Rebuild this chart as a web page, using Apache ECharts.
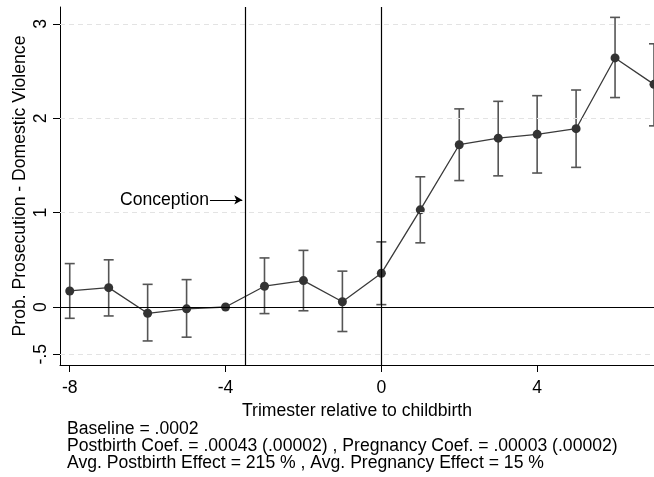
<!DOCTYPE html>
<html>
<head>
<meta charset="utf-8">
<script src="https://cdn.jsdelivr.net/npm/echarts@6/dist/echarts.min.js"></script>
<style>
html, body { margin: 0; padding: 0; background: #fff; }
#chart { width: 654px; height: 477px; }
</style>
</head>
<body>
<div id="chart"></div>
<script>
// 数据
var trimesters = [-8, -7, -6, -5, -4, -3, -2, -1, 0, 1, 2, 3, 4, 5, 6, 7];
var coef = [0.17, 0.205, -0.067, -0.02, 0, 0.22, 0.28, 0.056, 0.357, 1.03, 1.72, 1.79, 1.83, 1.89, 2.64, 2.36];
var ciLow = [-0.12, -0.095, -0.36, -0.32, 0, -0.07, -0.04, -0.26, 0.025, 0.68, 1.34, 1.39, 1.42, 1.48, 2.22, 1.92];
var ciHigh = [0.46, 0.50, 0.24, 0.29, 0, 0.52, 0.60, 0.38, 0.69, 1.38, 2.10, 2.18, 2.24, 2.30, 3.07, 2.79];
var xTicks = [-8, -4, 0, 4];
var yTicks = [-0.5, 0, 1, 2, 3];
var yGrid = [-0.5, 1, 2, 3];
var conceptionX = -3.5;
var arrowFrom = [-4.4, 1.135];
var arrowTo = [-3.57, 1.135];
var yTitle = 'Prob. Prosecution - Domestic Violence';
var notes = [
    'Baseline = .0002',
    'Postbirth Coef. = .00043 (.00002) , Pregnancy Coef. = .00003 (.00002)',
    'Avg. Postbirth Effect = 215 % , Avg. Pregnancy Effect = 15 %'
];

var font = 'Liberation Sans, Arial, sans-serif';
var fs = 17.6;

var pointData = trimesters.map(function (t, i) { return [t, coef[i]]; });
var barData = trimesters.map(function (t, i) { return [t, ciLow[i], ciHigh[i]]; });

var box = echarts.init(document.getElementById('chart'));
var option = {
    animation: false,
    textStyle: { fontFamily: font },
    title: {
        text: notes.join('\n'),
        left: 67,
        top: 421,
        padding: 0,
        textStyle: { fontSize: fs, fontWeight: 'normal', color: '#000', lineHeight: 16.7, fontFamily: font }
    },
    // y 轴标题
    graphic: [{
        type: 'text',
        x: 20,
        y: 186,
        rotation: Math.PI / 2,
        style: {
            text: yTitle, fontSize: fs, fill: '#000', fontFamily: font,
            textAlign: 'center', textVerticalAlign: 'middle'
        }
    }],
    grid: { left: 60, right: 0, top: 7, bottom: 112, containLabel: false, outerBoundsMode: 'none' },
    xAxis: {
        type: 'value',
        min: -8.25,
        max: 7,
        name: 'Trimester relative to childbirth',
        nameLocation: 'middle',
        nameGap: 30,
        nameTextStyle: { fontSize: fs, color: '#000', fontFamily: font },
        axisLine: { show: true, onZero: false, lineStyle: { color: '#000', width: 1 } },
        axisTick: { show: true, length: 7, customValues: xTicks, lineStyle: { color: '#000' } },
        axisLabel: {
            customValues: xTicks, fontSize: fs, color: '#000', margin: 14,
            formatter: function (v) { return String(v); }
        },
        splitLine: { show: false }
    },
    yAxis: {
        type: 'value',
        min: -0.615,
        max: 3.18,
        axisLine: { show: true, onZero: false, lineStyle: { color: '#000', width: 1 } },
        axisTick: { show: true, length: 7, customValues: yTicks, lineStyle: { color: '#000' } },
        axisLabel: {
            customValues: yTicks, fontSize: fs, color: '#000', rotate: 90, margin: 10,
            formatter: function (v) { return v === -0.5 ? '-.5' : String(v); }
        },
        splitLine: { show: false }
    },
    series: [
        {
            // 网格线和参考线
            type: 'line',
            data: [],
            silent: true,
            markLine: {
                silent: true,
                symbol: 'none',
                label: { show: false },
                data: yGrid.map(function (v) {
                    return { yAxis: v, lineStyle: { color: '#e3e3e3', type: [5, 4], width: 1 } };
                }).concat([
                    { yAxis: 0, lineStyle: { color: '#000', type: 'solid', width: 1.2 } },
                    { xAxis: 0, lineStyle: { color: '#000', type: 'solid', width: 1.2 } },
                    { xAxis: conceptionX, lineStyle: { color: '#000', type: 'solid', width: 1.2 } }
                ])
            }
        },
        {
            type: 'custom',
            data: barData,
            z: 3,
            renderItem: function (params, api) {
                var lo = api.value(1), hi = api.value(2);
                if (lo === hi) return;
                var p1 = api.coord([api.value(0), lo]);
                var p2 = api.coord([api.value(0), hi]);
                var w = 5;
                var style = { stroke: '#555', lineWidth: 1.6 };
                return {
                    type: 'group',
                    children: [
                        { type: 'line', shape: { x1: p1[0], y1: p1[1], x2: p2[0], y2: p2[1] }, style: style },
                        { type: 'line', shape: { x1: p1[0] - w, y1: p1[1], x2: p1[0] + w, y2: p1[1] }, style: style },
                        { type: 'line', shape: { x1: p2[0] - w, y1: p2[1], x2: p2[0] + w, y2: p2[1] }, style: style }
                    ]
                };
            }
        },
        {
            type: 'line',
            data: pointData,
            z: 4,
            symbol: 'circle',
            symbolSize: 9,
            lineStyle: { color: '#3a3a3a', width: 1.3 },
            itemStyle: { color: '#333' },
            markLine: {
                silent: true,
                symbol: ['none', 'arrow'],
                symbolSize: [7, 8],
                lineStyle: { color: '#000', type: 'solid', width: 1.2 },
                label: {
                    show: true, position: 'start', formatter: 'Conception',
                    fontSize: fs, color: '#000', distance: 1, fontFamily: font
                },
                data: [[{ coord: arrowFrom }, { coord: arrowTo }]]
            }
        }
    ]
};
box.setOption(option);
</script>
</body>
</html>
